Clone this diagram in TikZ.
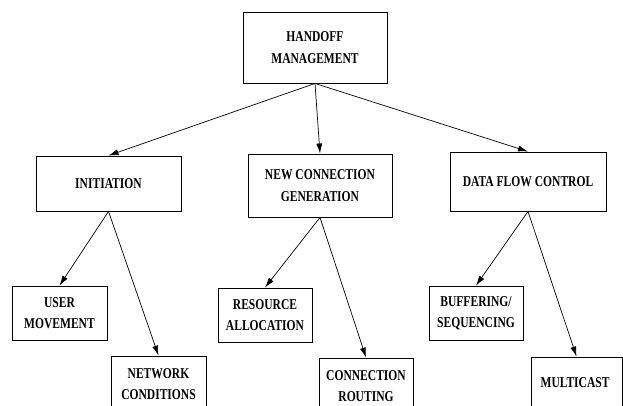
\documentclass[tikz,border=0pt]{standalone}
\usepackage{fontspec}
\setmainfont{Liberation Serif}[FakeStretch=0.77]
\usetikzlibrary{arrows.meta}
\begin{document}
\begin{tikzpicture}[
    x=1pt, y=-1pt,
    task/.style={draw=black, line width=0.9pt, text centered, align=center, inner sep=0pt,
                 font=\fontsize{15}{21.5}\selectfont\bfseries},
    link/.style={line width=0.7pt, -{Latex[length=10pt,width=6pt]}}
]
% Marco de la figura
\useasboundingbox (0,0) rectangle (623,406);
\clip (0,0) rectangle (623,406);

% Lista de cajas
% Formato: nombre, x, y, ancho, alto, texto
\foreach \name/\xc/\yc/\w/\h/\txt in {
    hm/315/47.5/144/71/{HANDOFF\\MANAGEMENT},
    init/108.5/183.5/145/55/{INITIATION},
    ncg/320/185.5/144/63/{NEW CONNECTION\\GENERATION},
    dfc/528/181.5/156/59/{DATA FLOW CONTROL},
    user/59.5/313/95/54/{USER\\MOVEMENT},
    net/158.5/384/95/56/{NETWORK\\CONDITIONS},
    res/265/315/94/54/{RESOURCE\\ALLOCATION},
    route/366/386/94/56/{CONNECTION\\ROUTING},
    buf/476/313/94/54/{BUFFERING/\\SEQUENCING},
    mult/576.5/383/91/52/{MULTICAST}
} {
    % Dibujar caja con su texto
    \node[task, minimum width=\w pt, minimum height=\h pt] (\name) at (\xc,\yc) {\txt};
}

% Flechas entre cajas
\foreach \from/\to in {hm/init, hm/ncg, hm/dfc,
                       init/user, init/net,
                       ncg/res, ncg/route,
                       dfc/buf, dfc/mult} {
    \draw[link] (\from.south) -- (\to.north);
}
\end{tikzpicture}
\end{document}
